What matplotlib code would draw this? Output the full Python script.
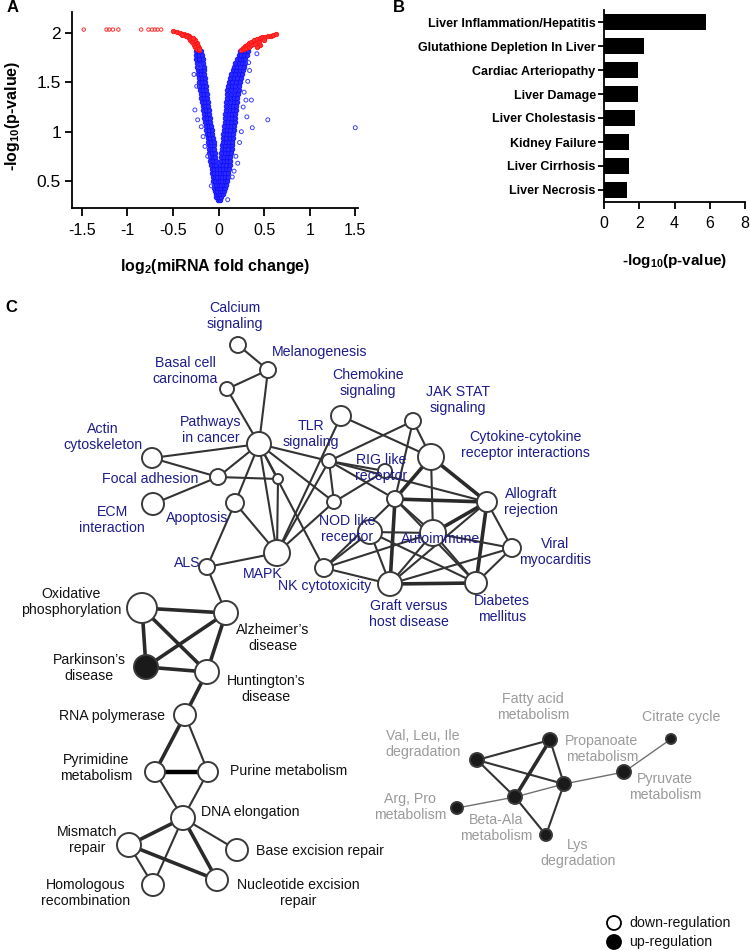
import matplotlib
matplotlib.use('Agg')
import matplotlib.pyplot as plt
from matplotlib.patches import Circle

plt.rcParams['font.family'] = ['Liberation Sans', 'DejaVu Sans']
plt.rcParams['mathtext.fontset'] = 'custom'
plt.rcParams['mathtext.rm'] = 'Liberation Sans:bold'
plt.rcParams['mathtext.default'] = 'rm'

# ---------------- Panel A data (volcano) ----------------
# rows: (y, [x values]) read from the dense V of blue points
blue_rows = [
    (0.31, [-0.01, 0.01]),
    (0.34, [-0.025, 0.0, 0.025]),
    (0.37, [-0.03, -0.005, 0.02, 0.045]),
    (0.40, [-0.04, -0.015, 0.01, 0.035, 0.06]),
    (0.43, [-0.045, -0.02, 0.005, 0.03, 0.055, 0.075]),
    (0.46, [-0.05, -0.025, 0.0, 0.03, 0.06, 0.085]),
    (0.50, [-0.06, -0.035, -0.01, 0.015, 0.04, 0.065, 0.095]),
    (0.54, [-0.065, -0.04, -0.015, 0.015, 0.04, 0.07, 0.10]),
    (0.58, [-0.07, -0.045, -0.02, 0.015, 0.045, 0.075, 0.105]),
    (0.62, [-0.075, -0.05, -0.02, 0.02, 0.05, 0.08, 0.11]),
    (0.66, [-0.08, -0.055, -0.025, 0.02, 0.05, 0.085, 0.12]),
    (0.70, [-0.09, -0.06, -0.03, 0.025, 0.055, 0.09, 0.125]),
    (0.74, [-0.095, -0.065, -0.035, 0.03, 0.06, 0.095, 0.13]),
    (0.78, [-0.10, -0.07, -0.04, 0.03, 0.065, 0.10, 0.14]),
    (0.82, [-0.105, -0.075, -0.045, 0.035, 0.07, 0.105, 0.145]),
    (0.86, [-0.11, -0.08, -0.05, 0.04, 0.075, 0.11, 0.145]),
    (0.90, [-0.115, -0.085, -0.055, 0.045, 0.08, 0.115, 0.15]),
    (0.94, [-0.12, -0.09, -0.06, 0.05, 0.085, 0.12, 0.155]),
    (0.98, [-0.13, -0.10, -0.07, 0.05, 0.09, 0.125, 0.16]),
    (1.02, [-0.135, -0.105, -0.075, 0.055, 0.095, 0.13, 0.165]),
    (1.06, [-0.14, -0.11, -0.08, 0.06, 0.10, 0.135, 0.17]),
    (1.10, [-0.15, -0.12, -0.09, 0.065, 0.105, 0.14, 0.175]),
    (1.14, [-0.155, -0.125, -0.095, 0.07, 0.11, 0.145, 0.18]),
    (1.18, [-0.16, -0.13, -0.10, 0.075, 0.115, 0.15, 0.185]),
    (1.22, [-0.17, -0.14, -0.11, 0.08, 0.12, 0.155, 0.19]),
    (1.26, [-0.175, -0.145, -0.115, 0.08, 0.125, 0.16, 0.195]),
    (1.30, [-0.18, -0.15, -0.12, 0.085, 0.13, 0.165, 0.20]),
    (1.34, [-0.19, -0.16, -0.125, 0.09, 0.135, 0.17, 0.205]),
    (1.38, [-0.195, -0.165, -0.13, 0.095, 0.14, 0.175, 0.21]),
    (1.42, [-0.205, -0.17, -0.135, 0.095, 0.14, 0.18, 0.22]),
    (1.46, [-0.21, -0.175, -0.14, 0.10, 0.145, 0.185, 0.225]),
    (1.50, [-0.215, -0.18, -0.145, 0.11, 0.15, 0.19, 0.235]),
    (1.54, [-0.22, -0.185, -0.15, 0.125, 0.165, 0.205, 0.245]),
    (1.58, [-0.225, -0.19, -0.155, 0.14, 0.18, 0.22, 0.255]),
    (1.62, [-0.23, -0.195, -0.16, 0.155, 0.195, 0.23, 0.265]),
    (1.66, [-0.235, -0.20, -0.165, 0.17, 0.205, 0.24, 0.275]),
    (1.70, [-0.24, -0.205, -0.17, 0.185, 0.22, 0.255, 0.285]),
    (1.74, [-0.245, -0.21, -0.175, 0.20, 0.235, 0.265, 0.295]),
    (1.78, [-0.25, -0.215, -0.18, 0.22, 0.25, 0.28, 0.31]),
    (1.82, [-0.25, -0.22, -0.19, 0.235, 0.265, 0.295, 0.32]),
]
blue_extra_x = [0.32, 0.36, 0.31, 0.54, 0.37, 0.42, 0.30, 0.23, 0.21, 0.15, 0.10, 1.50,
                0.34, 0.27, 0.25, 0.19, 0.33, 0.28, 0.17,
                -0.26, -0.23, -0.24, -0.21, -0.17, -0.12, -0.27, -0.19, -0.15, -0.08]
blue_extra_y = [1.51, 1.32, 1.15, 1.12, 1.04, 1.79, 1.32, 0.89, 0.68, 0.54, 0.31, 1.04,
                1.62, 1.25, 1.00, 0.75, 1.70, 1.40, 0.60,
                1.22, 1.12, 1.46, 1.66, 0.95, 0.75, 1.58, 1.05, 0.85, 0.45]
red_arc_x = [-0.50, -0.46, -0.42, -0.38, -0.35, -0.32, -0.30, -0.28, -0.26, -0.245, -0.23,
             -0.22, -0.40, -0.36, -0.33, -0.31, -0.29, -0.27, -0.255, -0.24, -0.24, -0.26,
             -0.23, -0.22, -0.28, -0.21,
             0.25, 0.27, 0.29, 0.31, 0.33, 0.36, 0.39, 0.42, 0.45, 0.48, 0.51, 0.54, 0.57,
             0.60, 0.63, 0.28, 0.30, 0.33, 0.36, 0.40, 0.44, 0.45, 0.42, 0.50]
red_arc_y = [2.02, 2.015, 2.005, 1.995, 1.98, 1.965, 1.95, 1.93, 1.90, 1.87, 1.845,
             1.83, 1.98, 1.965, 1.95, 1.93, 1.91, 1.88, 1.855, 1.835, 1.90, 1.93,
             1.87, 1.85, 1.95, 1.84,
             1.83, 1.85, 1.865, 1.88, 1.895, 1.91, 1.925, 1.935, 1.945, 1.955, 1.96, 1.965,
             1.97, 1.975, 1.985, 1.835, 1.845, 1.86, 1.875, 1.89, 1.905, 1.88, 1.86, 1.93]
red_top_x = [-1.48, -1.23, -1.20, -1.16, -1.10, -0.85, -0.77, -0.73, -0.70, -0.67, -0.63]
red_top_y = [2.035, 2.035, 2.035, 2.035, 2.035, 2.035, 2.035, 2.035, 2.035, 2.035, 2.035]
a_xticks = [-1.5, -1, -0.5, 0, 0.5, 1, 1.5]
a_xticklabels = ['-1.5', '-1', '-0.5', '0', '0.5', '1', '1.5']
a_yticks = [0.5, 1, 1.5, 2]
a_yticklabels = ['0.5', '1', '1.5', '2']

# ---------------- Panel B data ----------------
disease_names = ['Liver Inflammation/Hepatitis', 'Glutathione Depletion In Liver',
                 'Cardiac Arteriopathy', 'Liver Damage', 'Liver Cholestasis',
                 'Kidney Failure', 'Liver Cirrhosis', 'Liver Necrosis']
disease_vals = [5.8, 2.27, 1.93, 1.93, 1.78, 1.40, 1.40, 1.32]
b_xticks = [0, 2, 4, 6, 8]

# ---------------- Panel C data (network, pixel layout) ----------------
node_names = ['calcium', 'melano', 'basal', 'pathways', 'actin', 'focal', 'small', 'ecm',
              'apoptosis', 'tlr', 'chemokine', 'jak', 'cytokine', 'rig', 'hub', 'nodn',
              'allograft', 'nod', 'autoimmune', 'viral', 'mapk', 'als', 'nk', 'graft',
              'diabetes',
              'oxphos', 'alz', 'park', 'hunt', 'rna', 'pyr', 'pur', 'dna', 'mm', 'bex',
              'hom', 'nex',
              'val', 'fatty', 'prop', 'beta', 'arg', 'lys', 'pyru', 'citr']
node_x = [238, 268, 227, 259, 152, 218, 278, 153, 235, 329, 341, 413, 431, 385, 395, 334,
          487, 370, 433, 512, 277, 207, 324, 390, 476,
          142, 226, 146, 207, 185, 155, 208, 183, 129, 237, 153, 217,
          477, 550, 564, 515, 457, 546, 624, 671]
node_y = [345, 370, 389, 444, 458, 477, 479, 504, 503, 461, 416, 421, 457, 471, 499, 502,
          502, 532, 533, 548, 553, 567, 568, 584, 583,
          608, 613, 667, 672, 715, 772, 772, 818, 845, 850, 885, 880,
          760, 740, 784, 797, 808, 835, 772, 739]
node_r = [8, 8, 7, 12, 10, 8, 5, 11, 9, 7, 10, 8, 13, 7, 8, 7, 10, 12, 13, 9, 13, 8, 9,
          12, 11,
          15, 12, 12, 12, 11, 10, 10, 12, 12, 11, 11, 11,
          7, 7, 7, 7, 6, 6, 7, 5]
node_up = [False] * 27 + [True] + [False] * 9 + [True] * 8

# (a, b, weight class) 1 = normal, 2 = thick, 3 = heavy black, 0 = thin grey
edges = [
    ('calcium', 'melano', 1), ('melano', 'basal', 1), ('melano', 'pathways', 1),
    ('basal', 'pathways', 1), ('pathways', 'actin', 1), ('actin', 'focal', 1),
    ('focal', 'pathways', 1), ('focal', 'small', 1), ('focal', 'ecm', 1),
    ('pathways', 'apoptosis', 1), ('pathways', 'small', 1), ('pathways', 'mapk', 1),
    ('pathways', 'tlr', 1), ('pathways', 'nodn', 1), ('pathways', 'nk', 1),
    ('apoptosis', 'mapk', 1), ('apoptosis', 'als', 1), ('als', 'mapk', 1),
    ('small', 'mapk', 1), ('mapk', 'tlr', 1), ('mapk', 'chemokine', 1), ('mapk', 'nodn', 1),
    ('chemokine', 'cytokine', 1), ('jak', 'tlr', 1), ('jak', 'cytokine', 1),
    ('jak', 'hub', 1), ('tlr', 'rig', 1), ('tlr', 'hub', 1), ('tlr', 'nodn', 1),
    ('tlr', 'allograft', 1), ('nodn', 'rig', 1), ('hub', 'cytokine', 2),
    ('hub', 'allograft', 2), ('hub', 'autoimmune', 1), ('hub', 'graft', 2), ('hub', 'nk', 1),
    ('hub', 'diabetes', 1), ('cytokine', 'allograft', 2), ('cytokine', 'autoimmune', 1),
    ('allograft', 'autoimmune', 2), ('allograft', 'viral', 1), ('allograft', 'diabetes', 2),
    ('allograft', 'graft', 1), ('autoimmune', 'viral', 1), ('autoimmune', 'diabetes', 1),
    ('autoimmune', 'graft', 1), ('autoimmune', 'nk', 1), ('autoimmune', 'nod', 1),
    ('viral', 'diabetes', 1), ('viral', 'graft', 1), ('graft', 'diabetes', 2),
    ('graft', 'nk', 1), ('graft', 'nod', 1), ('nod', 'nk', 1), ('nod', 'diabetes', 1),
    ('als', 'alz', 1),
    ('oxphos', 'alz', 2), ('oxphos', 'park', 2), ('oxphos', 'hunt', 2), ('alz', 'park', 2),
    ('alz', 'hunt', 2), ('park', 'hunt', 2), ('hunt', 'rna', 2), ('rna', 'pyr', 2),
    ('rna', 'pur', 1), ('pyr', 'pur', 3), ('pyr', 'dna', 1), ('pur', 'dna', 1),
    ('dna', 'mm', 2), ('dna', 'bex', 1), ('dna', 'hom', 1), ('dna', 'nex', 2),
    ('mm', 'nex', 2), ('mm', 'hom', 1),
    ('val', 'fatty', 1), ('val', 'prop', 1), ('val', 'beta', 1), ('fatty', 'beta', 2),
    ('fatty', 'prop', 1), ('prop', 'lys', 1), ('beta', 'lys', 1), ('arg', 'beta', 0),
    ('beta', 'prop', 0), ('prop', 'pyru', 0), ('pyru', 'citr', 0),
]

label_texts = ['Calcium\nsignaling', 'Melanogenesis', 'Basal cell\ncarcinoma',
               'Chemokine\nsignaling', 'JAK STAT\nsignaling',
               'Cytokine-cytokine\nreceptor interactions', 'Actin\ncytoskeleton',
               'Pathways\nin cancer', 'TLR\nsignaling', 'RIG like\nreceptor',
               'Focal adhesion', 'ECM\ninteraction', 'Apoptosis', 'NOD like\nreceptor',
               'Allograft\nrejection', 'Autoimmune', 'Viral\nmyocarditis', 'ALS', 'MAPK',
               'NK cytotoxicity', 'Graft versus\nhost disease', 'Diabetes\nmellitus',
               'Oxidative\nphosphorylation', 'Alzheimer\u2019s\ndisease',
               'Parkinson\u2019s\ndisease', 'Huntington\u2019s\ndisease', 'RNA polymerase',
               'Pyrimidine\nmetabolism', 'Purine metabolism', 'DNA elongation',
               'Mismatch\nrepair', 'Base excision repair', 'Homologous\nrecombination',
               'Nucleotide excision\nrepair',
               'Fatty acid\nmetabolism', 'Citrate cycle', 'Val, Leu, Ile\ndegradation',
               'Propanoate\nmetabolism', 'Pyruvate\nmetabolism', 'Arg, Pro\nmetabolism',
               'Beta-Ala\nmetabolism', 'Lys\ndegradation']
label_x = [235, 320, 185, 368, 458, 525, 103, 211, 311, 381, 150, 112, 197, 347, 531, 441,
           555, 187, 263, 325, 409, 502,
           71, 273, 89, 266, 112, 96, 289, 250, 87, 320, 86, 298,
           533, 681, 423, 602, 665, 410, 496, 578]
label_y = [316, 352, 371, 383, 400, 445, 437, 430, 434, 468, 479, 520, 518, 529, 502, 539,
           552, 563, 574, 586, 614, 609,
           602, 638, 668, 689, 716, 768, 771, 812, 840, 851, 893, 893,
           707, 717, 744, 749, 787, 807, 828, 853]
label_group = ['immune'] * 22 + ['neuro'] * 12 + ['metab'] * 8
group_colors = {'immune': '#1c1c8c', 'neuro': '#111111', 'metab': '#9a9a9a'}

legend_texts = ['down-regulation', 'up-regulation']
legend_up = [False, True]

# ---------------- Figure ----------------
fig = plt.figure(figsize=(7.5, 9.51), dpi=100)

# Panel C (full-figure pixel axes)
axc = fig.add_axes([0, 0, 1, 1])
axc.set_xlim(0, 750)
axc.set_ylim(951, 0)
axc.set_aspect('equal')
axc.axis('off')

idx = {n: i for i, n in enumerate(node_names)}
edge_style = {0: ('#707070', 1.0), 1: ('#333333', 1.5), 2: ('#2a2a2a', 2.6), 3: ('#000000', 3.2)}
for a, b, w in edges:
    i, j = idx[a], idx[b]
    col, lw = edge_style[w]
    axc.plot([node_x[i], node_x[j]], [node_y[i], node_y[j]], color=col, lw=lw,
             solid_capstyle='butt', zorder=1)
for x, y, r, up in zip(node_x, node_y, node_r, node_up):
    axc.add_patch(Circle((x, y), r, facecolor='#1a1a1a' if up else 'white',
                         edgecolor='#3a3a3a', lw=1.4, zorder=2))
for t, x, y, g in zip(label_texts, label_x, label_y, label_group):
    axc.text(x, y, t, ha='center', va='center', fontsize=10.2, color=group_colors[g],
             linespacing=1.15, zorder=3)

leg_y = [923, 942]
for t, up, ly in zip(legend_texts, legend_up, leg_y):
    axc.add_patch(Circle((614, ly), 7, facecolor='black' if up else 'white',
                         edgecolor='black', lw=1.3, zorder=2))
    axc.text(629, ly, t, ha='left', va='center', fontsize=10.2, color='#111111')

# Panel A
axa = fig.add_axes([72 / 750, 1 - 208 / 951, 286 / 750, 196 / 951])
bx, by = [], []
for y, xs in blue_rows:
    for x in xs:
        bx.append(x)
        by.append(y)
axa.scatter(bx, by, s=11, facecolors='#2a2aff', edgecolors='#1010ff', linewidths=0.6,
            zorder=2)
axa.scatter(blue_extra_x, blue_extra_y, s=8, facecolors='none', edgecolors='#4040ff',
            linewidths=0.7, zorder=2)
axa.scatter(red_arc_x, red_arc_y, s=10, facecolors='#ff3030', edgecolors='#ff1010',
            linewidths=0.6, zorder=3)
axa.scatter(red_top_x, red_top_y, s=6, facecolors='none', edgecolors='#ff3030',
            linewidths=0.7, zorder=3)
axa.set_xlim(-1.609, 1.53)
axa.set_ylim(0.226, 2.213)
axa.set_xticks(a_xticks)
axa.set_xticklabels(a_xticklabels)
axa.set_yticks(a_yticks)
axa.set_yticklabels(a_yticklabels)
for s in ['top', 'right']:
    axa.spines[s].set_visible(False)
for s in ['left', 'bottom']:
    axa.spines[s].set_linewidth(1.3)
axa.tick_params(axis='x', direction='out', length=6, width=1.3, labelsize=11.5, pad=5)
axa.tick_params(axis='y', direction='out', length=5, width=1.3, labelsize=12.5, pad=3)
axa.set_xlabel('log$_2$(miRNA fold change)', fontsize=11.5, fontweight='bold')
axa.xaxis.set_label_coords(0.5, -0.25)
axa.set_ylabel('-log$_{10}$(p-value)', fontsize=11.5, fontweight='bold')
axa.yaxis.set_label_coords(-0.175, 0.47)

# Panel B
axb = fig.add_axes([604 / 750, 1 - 202 / 951, 141 / 750, 192 / 951])
ypos = list(range(len(disease_names)))
axb.barh(ypos, disease_vals, height=0.67, color='black')
axb.set_ylim(7.5, -0.5)
axb.set_xlim(0, 8)
axb.set_yticks(ypos)
axb.set_yticklabels(disease_names, fontsize=9, fontweight='bold')
axb.set_xticks(b_xticks)
for s in ['top', 'right']:
    axb.spines[s].set_visible(False)
for s in ['left', 'bottom']:
    axb.spines[s].set_linewidth(1.3)
axb.tick_params(axis='y', direction='out', length=4, width=1.3, pad=2)
axb.tick_params(axis='x', direction='out', length=5, width=1.3, labelsize=11.5, pad=5)
axb.set_xlabel('-log$_{10}$(p-value)', fontsize=11, fontweight='bold')
axb.xaxis.set_label_coords(0.5, -0.26)

# Panel letters
fig.text(7 / 750, 1 - 8 / 951, 'A', fontsize=12, fontweight='bold', va='center', ha='left')
fig.text(393 / 750, 1 - 8 / 951, 'B', fontsize=12, fontweight='bold', va='center', ha='left')
fig.text(5 / 750, 1 - 308 / 951, 'C', fontsize=12, fontweight='bold', va='center', ha='left')

fig.savefig('out.png', dpi=100)
